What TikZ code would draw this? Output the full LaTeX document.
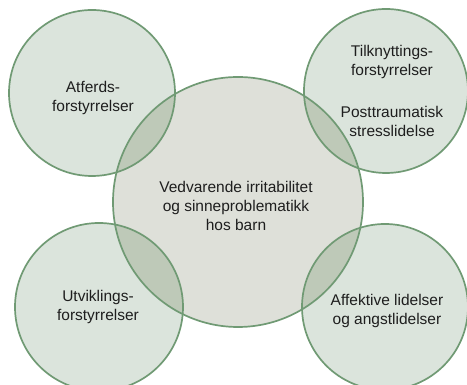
\documentclass[tikz,border=0pt]{standalone}
\usepackage{fontspec}
\setmainfont{Liberation Sans}
\definecolor{ring}{RGB}{112,154,116}
\definecolor{outerfill}{RGB}{219,228,220}
\definecolor{centerfill}{RGB}{222,224,217}
\definecolor{overlapfill}{RGB}{190,201,184}
\definecolor{txt}{RGB}{30,30,30}
\tikzset{
  x=1pt,y=1pt,
  ringline/.style={draw=ring, line width=1.7pt},
  lbl/.style={align=center, text=txt, font=\fontsize{15.5}{19}\selectfont, inner sep=0pt}
}
\begin{document}
\begin{tikzpicture}
\useasboundingbox (0,0) rectangle (467,385);
\begin{scope}
\clip (0,0) rectangle (467,385);
% fills
\fill[outerfill] (92,292) circle (83);
\fill[outerfill] (386,294) circle (82);
\fill[outerfill] (99,78) circle (84);
\fill[outerfill] (385,78) circle (83);
\fill[centerfill] (238,183) circle (125);
% overlaps
\begin{scope}\clip (238,183) circle (125); \fill[overlapfill] (92,292) circle (83); \end{scope}
\begin{scope}\clip (238,183) circle (125); \fill[overlapfill] (386,294) circle (82); \end{scope}
\begin{scope}\clip (238,183) circle (125); \fill[overlapfill] (99,78) circle (84); \end{scope}
\begin{scope}\clip (238,183) circle (125); \fill[overlapfill] (385,78) circle (83); \end{scope}
% rings as named nodes
\node[ringline, circle, minimum size=166pt, inner sep=0pt] (tl) at (92,292) {};
\node[ringline, circle, minimum size=164pt, inner sep=0pt] (tr) at (386,294) {};
\node[ringline, circle, minimum size=168pt, inner sep=0pt] (bl) at (99,78) {};
\node[ringline, circle, minimum size=166pt, inner sep=0pt] (br) at (385,78) {};
\node[ringline, circle, minimum size=250pt, inner sep=0pt] (c) at (238,183) {};
\end{scope}
% labels
\node[lbl] (tltext) at (93,287) {Atferds-\\forstyrrelser};
\node[lbl] (trtext1) at (392,323) {Tilknyttings-\\forstyrrelser};
\node[lbl] (trtext2) at (392,264) {Posttraumatisk\\stresslidelse};
\node[lbl] (ctext) at (236,179) {Vedvarende irritabilitet\\og sinneproblematikk\\hos barn};
\node[lbl] (bltext) at (98,78) {Utviklings-\\forstyrrelser};
\node[lbl] (brtext) at (387,74) {Affektive lidelser\\og angstlidelser};
\end{tikzpicture}
\end{document}
